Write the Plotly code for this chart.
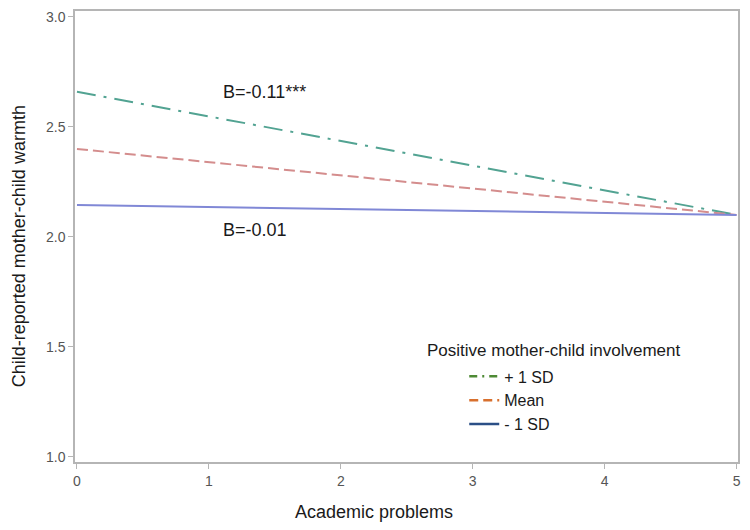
import plotly.graph_objects as go

# Data
x_vals = [0, 5]
plus_1sd = [2.66, 2.10]
mean_vals = [2.40, 2.10]
minus_1sd = [2.145, 2.10]
series_names = ["+ 1 SD", "Mean", "- 1 SD"]
x_ticks = [0, 1, 2, 3, 4, 5]
y_ticks = [1.0, 1.5, 2.0, 2.5, 3.0]
slope_labels = ["B=-0.11***", "B=-0.01"]
label_x = [1.094, 1.094]
label_y = [2.658, 2.03]

FONT = "Liberation Sans, Arial, sans-serif"

line_colors = ["#52a392", "#d48d8d", "#8088d6"]
legend_colors = ["#4e8a35", "#d8702e", "#2b4f86"]
line_dash = ["19px,8px,3px,8px", "11px,5px", "solid"]
legend_dash = ["8px,5px,2px,5px", "9px,5px", "solid"]

fig = go.Figure()
for name, yv, c, d in zip(series_names, [plus_1sd, mean_vals, minus_1sd], line_colors, line_dash):
    fig.add_trace(go.Scatter(x=x_vals, y=yv, mode="lines", name=name, legendgroup=name,
                             showlegend=False, line=dict(color=c, width=2, dash=d)))
for name, c, d in zip(series_names, legend_colors, legend_dash):
    fig.add_trace(go.Scatter(x=[None], y=[None], mode="lines", name=name, legendgroup=name,
                             showlegend=True, line=dict(color=c, width=2.5, dash=d)))

for lx, ly, lt in zip(label_x, label_y, slope_labels):
    fig.add_annotation(x=lx, y=ly, text=lt, showarrow=False,
                       xanchor="left", yanchor="middle",
                       font=dict(family=FONT, size=18, color="#1a1a1a"))

# axis titles as annotations (positioned like the reference)
fig.add_annotation(xref="paper", yref="paper", x=(375 - 75) / 666, y=-(512 - 462) / 453,
                   text="Academic problems", showarrow=False, xanchor="center", yanchor="middle",
                   font=dict(family=FONT, size=18, color="#1a1a1a"))
fig.add_annotation(xref="paper", yref="paper", x=-(75 - 19) / 666, y=(462 - 245) / 453,
                   text="Child-reported mother-child warmth", showarrow=False, textangle=-90,
                   xanchor="center", yanchor="middle",
                   font=dict(family=FONT, size=18, color="#1a1a1a"))
# legend title
fig.add_annotation(xref="paper", yref="paper", x=(427 - 75) / 666, y=(462 - 350) / 453,
                   text="Positive mother-child involvement", showarrow=False,
                   xanchor="left", yanchor="middle",
                   font=dict(family=FONT, size=17, color="#1a1a1a"))

fig.update_layout(
    width=750, height=530,
    margin=dict(l=75, r=9, t=9, b=68),
    paper_bgcolor="white", plot_bgcolor="white",
    font=dict(family=FONT, color="#1a1a1a"),
    showlegend=True,
    legend=dict(x=(466 - 75) / 666, y=(462 - 359) / 453, xanchor="left", yanchor="top",
                font=dict(family=FONT, size=16, color="#1a1a1a"),
                bgcolor="rgba(0,0,0,0)", tracegroupgap=0, itemwidth=30),
    xaxis=dict(range=[-0.015, 5.011], tickvals=x_ticks, ticktext=[str(t) for t in x_ticks],
               showgrid=False, zeroline=False, showline=True, linecolor="#b5b5b5", linewidth=1.5,
               mirror=True, ticks="outside", ticklen=5, tickcolor="#b5b5b5",
               tickfont=dict(family=FONT, size=14, color="#555555")),
    yaxis=dict(range=[0.977, 3.027], tickvals=y_ticks, ticktext=[f"{t:.1f}" for t in y_ticks],
               showgrid=False, zeroline=False, showline=True, linecolor="#b5b5b5", linewidth=1.5,
               mirror=True, ticks="outside", ticklen=5, tickcolor="#b5b5b5",
               tickfont=dict(family=FONT, size=14, color="#555555")),
)

fig.write_html("out.html", config={"displayModeBar": False},
               post_script="document.body.style.margin='0';")
